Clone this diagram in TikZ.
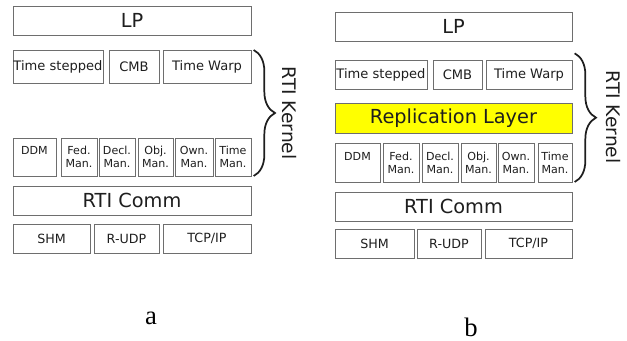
\documentclass[tikz,border=0pt]{standalone}
\usepackage{fontspec}
\setmainfont{Liberation Serif}
\newfontfamily\boxfont{DejaVu Sans}
\usetikzlibrary{decorations.pathreplacing}
\definecolor{Ink}{HTML}{1E1E1E}
\definecolor{Frame}{HTML}{6E6E6E}
\definecolor{ReplYellow}{HTML}{FFFF00}

\begin{document}
\begin{tikzpicture}[x=0.75pt,y=-0.75pt,
    layer/.style={draw=Frame,line width=0.6pt,inner sep=0pt,outer sep=0pt,text=Ink,font=\boxfont\fontsize{14.5}{16}\selectfont},
    algo/.style={layer,font=\boxfont\fontsize{9.8}{11}\selectfont},
    mgr/.style={layer,align=center,font=\boxfont\fontsize{8.3}{9.75}\selectfont},
    net/.style={layer,font=\boxfont\fontsize{9.5}{11}\selectfont},
    kbrace/.style={decorate,decoration={brace,amplitude=16pt},line width=1.3pt,draw=Ink},
    kernel/.style={rotate=-90,text=Ink,font=\boxfont\fontsize{14}{16}\selectfont},
    caption/.style={font=\fontsize{20}{24}\selectfont}]
  \useasboundingbox (0,0) rectangle (627,341);

  % (a) without replication
  \node[layer,minimum width=178.5pt,minimum height=21.75pt] (lpA) at (132,20.5) {LP};
  \node[algo,minimum width=67.5pt,minimum height=24.75pt] (tsA) at (58,66.5) {Time stepped};
  \node[algo,minimum width=37.5pt,minimum height=24.75pt] (cmbA) at (134,66.5) {CMB};
  \node[algo,minimum width=66pt,minimum height=24.75pt] (twA) at (207,66.5) {Time Warp};
  \node[mgr,minimum width=32.25pt,minimum height=28.5pt] (ddmA) at (34.5,157) {DDM\\\mbox{}};
  \node[mgr,minimum width=27pt,minimum height=28.5pt] (fedA) at (79,157) {Fed.\\Man.};
  \node[mgr,minimum width=27pt,minimum height=28.5pt] (declA) at (117,157) {Decl.\\Man.};
  \node[mgr,minimum width=26.25pt,minimum height=28.5pt] (objA) at (155.5,157) {Obj.\\Man.};
  \node[mgr,minimum width=28.5pt,minimum height=28.5pt] (ownA) at (194,157) {Own.\\Man.};
  \node[mgr,minimum width=27pt,minimum height=28.5pt] (tmA) at (233,157) {Time\\Man.};
  \node[layer,minimum width=178.5pt,minimum height=21.75pt] (commA) at (132,200.5) {RTI Comm};
  \node[net,minimum width=57.75pt,minimum height=21.75pt] (shmA) at (51.5,238.5) {SHM};
  \node[net,minimum width=48.75pt,minimum height=21.75pt] (rudpA) at (126.5,238.5) {R-UDP};
  \node[net,minimum width=66pt,minimum height=21.75pt] (tcpA) at (207,238.5) {TCP/IP};
  \draw[kbrace] ([xshift=2pt]twA.north east) -- ([xshift=2pt]tmA.south east);
  \node[kernel] (kernA) at (289,113) {RTI Kernel};
  \node[caption] (capA) at (151,318) {a};

  % (b) with the replication layer
  \node[layer,minimum width=177.75pt,minimum height=21.75pt] (lpB) at (453.5,26.5) {LP};
  \node[algo,minimum width=69pt,minimum height=21.75pt] (tsB) at (381,74.5) {Time stepped};
  \node[algo,minimum width=36.75pt,minimum height=21.75pt] (cmbB) at (457.5,74.5) {CMB};
  \node[algo,minimum width=64.5pt,minimum height=21.75pt] (twB) at (529,74.5) {Time Warp};
  \node[layer,fill=ReplYellow,minimum width=177.75pt,minimum height=22.5pt] (replB) at (453.5,118) {Replication Layer};
  \node[mgr,minimum width=33.75pt,minimum height=29.25pt] (ddmB) at (357.5,162.5) {DDM\\\mbox{}};
  \node[mgr,minimum width=27pt,minimum height=29.25pt] (fedB) at (401,162.5) {Fed.\\Man.};
  \node[mgr,minimum width=27pt,minimum height=29.25pt] (declB) at (440,162.5) {Decl.\\Man.};
  \node[mgr,minimum width=26.25pt,minimum height=29.25pt] (objB) at (478.5,162.5) {Obj.\\Man.};
  \node[mgr,minimum width=27pt,minimum height=29.25pt] (ownB) at (516,162.5) {Own.\\Man.};
  \node[mgr,minimum width=25.5pt,minimum height=29.25pt] (tmB) at (555,162.5) {Time\\Man.};
  \node[layer,minimum width=177.75pt,minimum height=21.75pt] (commB) at (453.5,206.5) {RTI Comm};
  \node[net,minimum width=59.25pt,minimum height=21.75pt] (shmB) at (374.5,243.5) {SHM};
  \node[net,minimum width=48pt,minimum height=21.75pt] (rudpB) at (449,243.5) {R-UDP};
  \node[net,minimum width=65.25pt,minimum height=21.75pt] (tcpB) at (528.5,243.5) {TCP/IP};
  \draw[kbrace] ([shift={(2pt,5pt)}]twB.north east) -- ([xshift=2pt]tmB.south east);
  \node[kernel] (kernB) at (613,117) {RTI Kernel};
  \node[caption] (capB) at (471,327) {b};
\end{tikzpicture}
\end{document}
